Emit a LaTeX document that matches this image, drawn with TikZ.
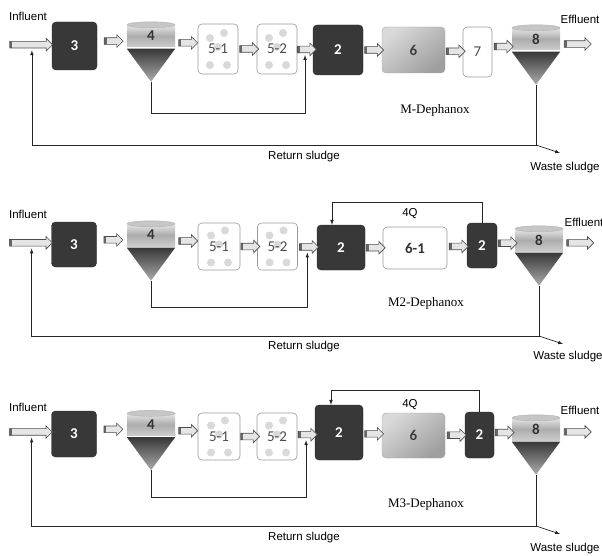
\documentclass[tikz,border=0pt]{standalone}
\usepackage{fontspec}
\setmainfont{Liberation Sans}
\newfontfamily\numfont{Carlito}
\newfontfamily\titlefont{Liberation Serif}
\usetikzlibrary{shapes.arrows}

\tikzset{
  darkbox/.style={rectangle, rounded corners=4pt, draw=black!85, fill=black!78, text=white,
    font=\numfont\bfseries\fontsize{15}{15}\selectfont},
  whitebox/.style={rectangle, rounded corners=4pt, draw=gray!80, line width=0.6pt, fill=white, text=black!70,
    font=\numfont\fontsize{15}{15}\selectfont},
  greybox/.style={rectangle, rounded corners=4pt, draw=gray!70, top color=gray!30, bottom color=gray!75,
    shading angle=40, text=black!75, font=\numfont\bfseries\fontsize{15}{15}\selectfont},
  dotbox/.style={whitebox, path picture={
    \fill[gray!30] ([shift={(-8pt,11pt)}]path picture bounding box.center) circle (4pt);
    \fill[gray!30] ([shift={(6pt,16pt)}]path picture bounding box.center) circle (4pt);
    \fill[gray!30] ([shift={(0pt,2pt)}]path picture bounding box.center) circle (4pt);
    \fill[gray!30] ([shift={(-8pt,-16pt)}]path picture bounding box.center) circle (4pt);
    \fill[gray!30] ([shift={(9pt,-16pt)}]path picture bounding box.center) circle (4pt);}},
  tank/.style={rectangle, minimum width=48pt, minimum height=22pt, inner sep=0pt,
    top color=gray!20, bottom color=gray!40, middle color=gray!65, text=black!80,
    font=\numfont\bfseries\fontsize{15}{15}\selectfont},
  pipe/.style={single arrow, draw=black!70, fill=gray!20, line width=0.6pt,
    minimum height=19pt, single arrow head extend=3pt, inner sep=3pt,
    path picture={\fill[black!60] (path picture bounding box.south west)
      rectangle ([xshift=2.5pt]path picture bounding box.north west);}},
  flowline/.style={draw=black!85, line width=0.7pt},
  lbl/.style={font=\fontsize{11.5}{12}\selectfont},
  title/.style={font=\titlefont\fontsize{13}{14}\selectfont},
}

% settler: name, centre of the drum, number
\newcommand{\settler}[3]{%
  \node[tank] (#1) at (#2) {#3};
  \draw[draw=gray!60, fill=gray!45] (#1.north) ellipse (24pt and 3pt);
  \coordinate (#1-tip) at ([yshift=-34.5pt]#1.south);
  \shade[top color=black!78, bottom color=gray!65] ([yshift=-1.5pt]#1.south west)
    -- ([yshift=-1.5pt]#1.south east) -- (#1-tip) -- cycle;
}

\begin{document}
\begin{tikzpicture}[x=1pt, y=-1pt, >=latex]
  \useasboundingbox (0,0) rectangle (602,556);

  % M-Dephanox
  \node[lbl] (infA) at (28,16) {Influent};
  \coordinate (inA) at (7,44);
  \node[darkbox, minimum width=45pt, minimum height=48pt] (t3A) at (74.5,46) {3};
  \settler{s4A}{151,36}{4}
  \node[dotbox, minimum width=40pt, minimum height=50pt] (r51A) at (218,49) {5-1};
  \node[dotbox, minimum width=40pt, minimum height=50pt] (r52A) at (277,49) {5-2};
  \node[darkbox, minimum width=50pt, minimum height=50pt] (t2A) at (338,50) {2};
  \node[greybox, minimum width=63pt, minimum height=46pt] (t6A) at (413.5,50) {6};
  \node[whitebox, minimum width=29pt, minimum height=50pt] (t7A) at (477.5,52) {7};
  \settler{s8A}{536,39}{8}
  \coordinate (outA) at (592,46);
  \node[lbl] (effA) at (580,19) {Effluent};
  \path (inA) -- node[pipe, minimum height=43pt] (pinA) {} (t3A)
    (t3A) -- node[pipe] {} (s4A)
    (s4A) -- node[pipe] {} (r51A)
    (r51A) -- node[pipe] {} (r52A)
    (r52A) -- node[pipe] (p2A) {} (t2A)
    (t2A) -- node[pipe] {} (t6A)
    (t6A) -- node[pipe] {} (t7A)
    (t7A) -- node[pipe] {} (s8A)
    (s8A) -- node[pipe, minimum height=27pt] {} (outA);
  \coordinate (jA) at (s8A-tip |- 0,145);
  \coordinate (wA) at (560,153);
  \draw[flowline, ->] (s4A-tip) -- (s4A-tip |- 0,113) -| ([yshift=-2pt]p2A.south);
  \draw[flowline, ->] (s8A-tip) -- (jA) -| ([xshift=2.5pt, yshift=-2pt]pinA.south);
  \draw[flowline, ->] (jA) -- (wA);
  \node[lbl] (rsA) at (304,157) {Return sludge};
  \node[lbl] (wsA) at (565,168) {Waste sludge};
  \node[title] (mA) at (435,110) {M-Dephanox};

  % M2-Dephanox
  \node[lbl] (infB) at (28,214) {Influent};
  \coordinate (inB) at (7,242);
  \node[darkbox, minimum width=45pt, minimum height=45pt] (t3B) at (74,244.5) {3};
  \settler{s4B}{151,235}{4}
  \node[dotbox, minimum width=42pt, minimum height=47pt] (r51B) at (219,246.5) {5-1};
  \node[dotbox, minimum width=40pt, minimum height=47pt] (r52B) at (277.5,246.5) {5-2};
  \node[darkbox, minimum width=48pt, minimum height=45pt] (t2B) at (341,247.5) {2};
  \node[whitebox, minimum width=64pt, minimum height=42pt, text=black!80,
    font=\numfont\bfseries\fontsize{15}{15}\selectfont] (t61B) at (415,248) {6-1};
  \node[darkbox, minimum width=30pt, minimum height=45pt] (t2sB) at (482,245.5) {2};
  \settler{s8B}{539,240}{8}
  \coordinate (outB) at (594,244);
  \node[lbl] (effB) at (584,222) {Effluent};
  \path (inB) -- node[pipe, minimum height=43pt] (pinB) {} (t3B)
    (t3B) -- node[pipe] {} (s4B)
    (s4B) -- node[pipe] {} (r51B)
    (r51B) -- node[pipe] {} (r52B)
    (r52B) -- node[pipe] (p2B) {} (t2B)
    (t2B) -- node[pipe] {} (t61B)
    (t61B) -- node[pipe] {} (t2sB)
    (t2sB) -- node[pipe] {} (s8B)
    (s8B) -- node[pipe, minimum height=27pt] {} (outB);
  \draw[flowline, ->] (t2sB.north) -- ++(0,-20) -| ([xshift=-9pt]t2B.north);
  \node[lbl] (qB) at (410,214) {4Q};
  \coordinate (jB) at (s8B-tip |- 0,336);
  \coordinate (wB) at (563,344);
  \draw[flowline, ->] (s4B-tip) -- (s4B-tip |- 0,307) -| ([yshift=-2pt]p2B.south);
  \draw[flowline, ->] (s8B-tip) -- (jB) -| ([xshift=2.5pt, yshift=-2pt]pinB.south);
  \draw[flowline, ->] (jB) -- (wB);
  \node[lbl] (rsB) at (304,347) {Return sludge};
  \node[lbl] (wsB) at (568,357) {Waste sludge};
  \node[title] (mB) at (426,303) {M2-Dephanox};

  % M3-Dephanox
  \node[lbl] (infC) at (28,407) {Influent};
  \coordinate (inC) at (7,431);
  \node[darkbox, minimum width=45pt, minimum height=46pt] (t3C) at (74,434) {3};
  \settler{s4C}{151,424.5}{4}
  \node[dotbox, minimum width=42pt, minimum height=47pt] (r51C) at (219,436.5) {5-1};
  \node[dotbox, minimum width=40pt, minimum height=47pt] (r52C) at (277,436.5) {5-2};
  \node[darkbox, minimum width=48pt, minimum height=55pt] (t2C) at (339,432.5) {2};
  \node[greybox, minimum width=63pt, minimum height=45pt] (t6C) at (413.5,435.5) {6};
  \node[darkbox, minimum width=29pt, minimum height=46pt] (t2sC) at (479.5,435) {2};
  \settler{s8C}{536,429}{8}
  \coordinate (outC) at (592,433);
  \node[lbl] (effC) at (580,410) {Effluent};
  \path (inC) -- node[pipe, minimum height=43pt] (pinC) {} (t3C)
    (t3C) -- node[pipe] {} (s4C)
    (s4C) -- node[pipe] {} (r51C)
    (r51C) -- node[pipe] {} (r52C)
    (r52C) -- node[pipe] (p2C) {} (t2C)
    (t2C) -- node[pipe] {} (t6C)
    (t6C) -- node[pipe] {} (t2sC)
    (t2sC) -- node[pipe] {} (s8C)
    (s8C) -- node[pipe, minimum height=27pt] {} (outC);
  \draw[flowline, ->] (t2sC.north) -- ++(0,-21) -| ([xshift=-8pt]t2C.north);
  \node[lbl] (qC) at (410,405) {4Q};
  \coordinate (jC) at (s8C-tip |- 0,526);
  \coordinate (wC) at (560,534);
  \draw[flowline, ->] (s4C-tip) -- (s4C-tip |- 0,497) -| ([yshift=-2pt]p2C.south);
  \draw[flowline, ->] (s8C-tip) -- (jC) -| ([xshift=2.5pt, yshift=-2pt]pinC.south);
  \draw[flowline, ->] (jC) -- (wC);
  \node[lbl] (rsC) at (304,538) {Return sludge};
  \node[lbl] (wsC) at (565,549) {Waste sludge};
  \node[title] (mC) at (426,504) {M3-Dephanox};
\end{tikzpicture}
\end{document}
